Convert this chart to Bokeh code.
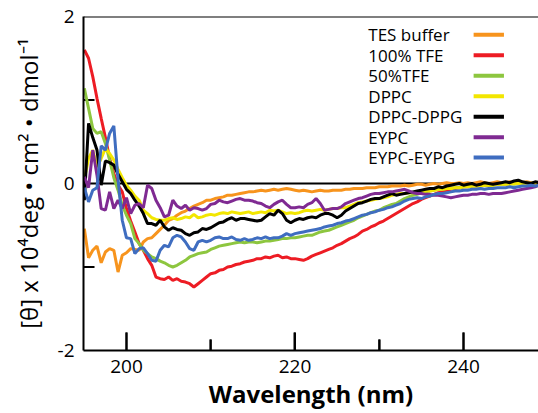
import numpy as np
from bokeh.plotting import figure
from bokeh.models import FixedTicker, Span, Range1d, ColumnDataSource
from bokeh.core.properties import value
from bokeh.embed import file_html
from bokeh.resources import INLINE

# ---------------- data ----------------
wavelength = np.arange(195.0, 249.51, 0.5)  # nm grid, 110 points

tes_buffer = [
    -0.54, -0.89, -0.80, -0.75, -0.95, -0.82, -0.78, -0.80, -1.06, -0.86,
    -0.83, -0.78, -0.79, -0.80, -0.70, -0.66, -0.65, -0.60, -0.55, -0.50,
    -0.44, -0.42, -0.38, -0.35, -0.33, -0.30, -0.27, -0.25, -0.23, -0.20,
    -0.20, -0.18, -0.17, -0.16, -0.14, -0.14, -0.13, -0.12, -0.11, -0.10,
    -0.10, -0.09, -0.08, -0.09, -0.08, -0.07, -0.08, -0.07, -0.06, -0.07,
    -0.08, -0.09, -0.08, -0.09, -0.10, -0.09, -0.08, -0.09, -0.09, -0.08,
    -0.08, -0.08, -0.07, -0.07, -0.06, -0.06, -0.06, -0.05, -0.05, -0.05,
    -0.04, -0.04, -0.04, -0.03, -0.03, -0.03, -0.02, -0.03, -0.02, -0.01,
    -0.01, -0.02, -0.01, 0.00, -0.01, 0.00, 0.01, 0.00, 0.00, 0.01,
    0.00, 0.01, 0.00, 0.01, 0.02, 0.01, 0.00, 0.01, 0.02, 0.01,
    0.01, 0.02, 0.01, 0.00, 0.01, 0.02, 0.01, 0.00, 0.01, 0.00,
]
tfe_100 = [
    1.60, 1.50, 1.28, 1.02, 0.78, 0.55, 0.30, 0.12, -0.02, -0.10,
    -0.30, -0.45, -0.58, -0.72, -0.80, -0.90, -0.98, -1.12, -1.14, -1.15,
    -1.12, -1.16, -1.14, -1.17, -1.18, -1.20, -1.24, -1.20, -1.16, -1.12,
    -1.08, -1.07, -1.04, -1.03, -1.00, -0.99, -0.97, -0.96, -0.94, -0.93,
    -0.92, -0.90, -0.90, -0.88, -0.89, -0.87, -0.86, -0.89, -0.88, -0.90,
    -0.90, -0.91, -0.92, -0.90, -0.87, -0.85, -0.83, -0.81, -0.79, -0.77,
    -0.74, -0.72, -0.69, -0.66, -0.64, -0.61, -0.57, -0.55, -0.52, -0.50,
    -0.47, -0.45, -0.42, -0.39, -0.36, -0.33, -0.30, -0.27, -0.24, -0.22,
    -0.19, -0.17, -0.15, -0.13, -0.11, -0.10, -0.08, -0.07, -0.06, -0.05,
    -0.04, -0.04, -0.03, -0.03, -0.02, -0.02, -0.02, -0.01, -0.01, 0.00,
    -0.01, 0.00, 0.00, 0.01, 0.00, 0.01, 0.00, 0.00, 0.01, 0.00,
]
tfe_50 = [
    1.14, 0.90, 0.66, 0.60, 0.62, 0.48, 0.28, 0.07, -0.08, -0.26,
    -0.38, -0.48, -0.66, -0.72, -0.80, -0.84, -0.88, -0.90, -0.93, -0.95,
    -0.98, -1.00, -0.98, -0.95, -0.92, -0.88, -0.86, -0.84, -0.83, -0.82,
    -0.79, -0.77, -0.75, -0.74, -0.73, -0.72, -0.71, -0.70, -0.71, -0.70,
    -0.70, -0.71, -0.70, -0.69, -0.69, -0.68, -0.67, -0.66, -0.66, -0.65,
    -0.65, -0.64, -0.63, -0.62, -0.62, -0.60, -0.58, -0.57, -0.56, -0.54,
    -0.52, -0.50, -0.48, -0.46, -0.44, -0.41, -0.39, -0.37, -0.35, -0.33,
    -0.32, -0.29, -0.27, -0.25, -0.24, -0.21, -0.18, -0.16, -0.14, -0.13,
    -0.11, -0.10, -0.09, -0.08, -0.07, -0.07, -0.06, -0.06, -0.05, -0.05,
    -0.04, -0.04, -0.03, -0.03, -0.03, -0.02, -0.02, -0.02, -0.01, -0.01,
    -0.01, 0.00, -0.01, 0.00, 0.00, 0.01, 0.00, 0.01, 0.00, 0.00,
]
dppc = [
    0.05, 0.30, 0.40, 0.20, 0.30, 0.42, 0.36, 0.28, 0.17, 0.07,
    -0.02, -0.08, -0.15, -0.20, -0.32, -0.36, -0.41, -0.43, -0.44, -0.44,
    -0.42, -0.41, -0.43, -0.42, -0.40, -0.41, -0.37, -0.41, -0.40, -0.38,
    -0.37, -0.38, -0.36, -0.35, -0.36, -0.34, -0.35, -0.36, -0.35, -0.34,
    -0.36, -0.35, -0.34, -0.35, -0.32, -0.33, -0.32, -0.34, -0.36, -0.35,
    -0.36, -0.35, -0.33, -0.32, -0.33, -0.32, -0.31, -0.32, -0.31, -0.30,
    -0.30, -0.29, -0.29, -0.27, -0.25, -0.23, -0.22, -0.21, -0.20, -0.19,
    -0.18, -0.17, -0.16, -0.14, -0.13, -0.12, -0.12, -0.11, -0.11, -0.10,
    -0.10, -0.09, -0.09, -0.08, -0.07, -0.07, -0.06, -0.06, -0.05, -0.05,
    -0.04, -0.04, -0.03, -0.03, -0.03, -0.02, -0.02, -0.02, -0.01, -0.01,
    -0.01, -0.01, 0.00, 0.00, -0.01, 0.00, 0.00, 0.01, 0.00, 0.00,
]
dppc_dppg = [
    -0.20, 0.72, 0.55, 0.40, -0.02, 0.27, 0.25, 0.22, 0.11, 0.02,
    -0.07, -0.12, -0.20, -0.27, -0.36, -0.48, -0.48, -0.50, -0.44, -0.52,
    -0.56, -0.53, -0.55, -0.56, -0.60, -0.62, -0.59, -0.58, -0.54, -0.55,
    -0.53, -0.50, -0.47, -0.46, -0.43, -0.41, -0.44, -0.42, -0.42, -0.43,
    -0.44, -0.45, -0.44, -0.40, -0.36, -0.38, -0.32, -0.36, -0.44, -0.47,
    -0.44, -0.42, -0.43, -0.41, -0.40, -0.41, -0.38, -0.36, -0.36, -0.38,
    -0.41, -0.38, -0.33, -0.30, -0.27, -0.24, -0.23, -0.21, -0.19, -0.18,
    -0.18, -0.16, -0.14, -0.12, -0.14, -0.13, -0.12, -0.11, -0.10, -0.09,
    -0.08, -0.07, -0.06, -0.06, -0.04, -0.05, -0.03, -0.02, -0.01, 0.00,
    -0.02, -0.01, 0.00, -0.02, -0.01, 0.01, 0.00, -0.01, 0.00, 0.01,
    0.02, 0.01, 0.03, 0.04, 0.02, 0.01, 0.00, 0.02, 0.01, 0.00,
]
eypc = [
    0.08, -0.05, 0.40, 0.10, -0.30, -0.32, -0.10, -0.30, -0.20, -0.30,
    -0.17, -0.36, -0.26, -0.24, -0.29, -0.02, -0.06, -0.20, -0.29, -0.40,
    -0.38, -0.20, -0.27, -0.30, -0.26, -0.32, -0.29, -0.30, -0.32, -0.30,
    -0.25, -0.24, -0.20, -0.22, -0.23, -0.21, -0.19, -0.18, -0.20, -0.20,
    -0.21, -0.23, -0.24, -0.27, -0.29, -0.25, -0.22, -0.20, -0.25, -0.29,
    -0.29, -0.28, -0.29, -0.25, -0.23, -0.18, -0.24, -0.32, -0.31, -0.30,
    -0.30, -0.28, -0.24, -0.22, -0.20, -0.18, -0.17, -0.15, -0.13, -0.12,
    -0.12, -0.11, -0.10, -0.10, -0.09, -0.08, -0.07, -0.09, -0.11, -0.12,
    -0.12, -0.13, -0.13, -0.14, -0.14, -0.15, -0.16, -0.17, -0.16, -0.15,
    -0.14, -0.14, -0.13, -0.13, -0.12, -0.12, -0.13, -0.12, -0.12, -0.12,
    -0.11, -0.10, -0.09, -0.08, -0.07, -0.06, -0.05, -0.04, -0.02, -0.01,
]
eypc_eypg = [
    -0.05, -0.22, -0.08, -0.05, 0.45, 0.40, 0.60, 0.69, 0.05, -0.44,
    -0.65, -0.66, -0.84, -0.78, -0.77, -0.84, -0.92, -0.93, -0.80, -0.74,
    -0.76, -0.65, -0.62, -0.64, -0.70, -0.78, -0.80, -0.70, -0.68, -0.70,
    -0.68, -0.65, -0.64, -0.66, -0.66, -0.64, -0.67, -0.68, -0.66, -0.68,
    -0.67, -0.65, -0.66, -0.64, -0.66, -0.65, -0.65, -0.63, -0.60, -0.62,
    -0.60, -0.59, -0.58, -0.57, -0.56, -0.55, -0.54, -0.52, -0.51, -0.50,
    -0.48, -0.47, -0.45, -0.44, -0.42, -0.40, -0.38, -0.37, -0.35, -0.34,
    -0.32, -0.31, -0.29, -0.28, -0.26, -0.24, -0.21, -0.19, -0.18, -0.17,
    -0.18, -0.16, -0.15, -0.13, -0.12, -0.12, -0.11, -0.10, -0.09, -0.09,
    -0.08, -0.08, -0.07, -0.07, -0.06, -0.07, -0.06, -0.06, -0.05, -0.05,
    -0.05, -0.04, -0.05, -0.04, -0.03, -0.03, -0.02, -0.03, -0.02, -0.02,
]

series_names = ["TES buffer", "100% TFE", "50%TFE", "DPPC", "DPPC-DPPG", "EYPC", "EYPC-EYPG"]
series_values = [tes_buffer, tfe_100, tfe_50, dppc, dppc_dppg, eypc, eypc_eypg]
series_colors = ["#F7941D", "#ED1C24", "#8DC63F", "#F2E600", "#000000", "#7F2A92", "#3F6DC0"]

x_ticks = [200, 220, 240]
x_minor = [210, 230]
y_ticks = [-2, 0, 2]
y_minor = [-1, 1]

# ---------------- layout constants ----------------
FONT = "Open Sans"
X_START, X_END = 194.9, 248.9
Y_START, Y_END = -2, 2
MAJOR_TICK_PX, MINOR_TICK_PX = 18, 11
LEG_TEXT_X = 228.7
LEG_LINE_X0, LEG_LINE_X1 = 241.2, 244.8
LEG_Y_TOP, LEG_DY = 1.78, 0.245

p = figure(width=538, height=413, output_backend="svg", toolbar_location=None,
           x_range=Range1d(X_START, X_END), y_range=Range1d(Y_START, Y_END),
           min_border_left=83, min_border_right=0, min_border_top=16, min_border_bottom=63)
p.outline_line_color = None
p.grid.visible = False

# inward tick marks: thin rectangles centred on the axis line (half falls inside the frame)
p.rect(x=x_ticks, y=[Y_START] * len(x_ticks), width=2, height=2 * MAJOR_TICK_PX,
       width_units="screen", height_units="screen", fill_color="black", line_color=None)
p.rect(x=x_minor, y=[Y_START] * len(x_minor), width=2, height=2 * MINOR_TICK_PX,
       width_units="screen", height_units="screen", fill_color="black", line_color=None)
p.rect(x=[X_START] * len(y_minor), y=y_minor, width=2 * MINOR_TICK_PX, height=2,
       width_units="screen", height_units="screen", fill_color="black", line_color=None)

# zero line (under the curves) and top frame line
p.add_layout(Span(location=0, dimension="width", line_color="black", line_width=2, level="underlay"))
p.add_layout(Span(location=Y_END, dimension="width", line_color="black", line_width=2))

for name, vals, col in zip(series_names, series_values, series_colors):
    src = ColumnDataSource(dict(x=wavelength, y=vals))
    p.line("x", "y", source=src, line_color=col, line_width=3)

# legend (text left, line sample right)
leg_y = LEG_Y_TOP - LEG_DY * np.arange(len(series_names))
p.text(x=[LEG_TEXT_X] * len(series_names), y=leg_y, text=series_names,
       text_font=value(FONT), text_font_size=value("17px"), text_color="black",
       text_baseline="middle", text_align="left")
p.segment(x0=[LEG_LINE_X0] * len(series_names), y0=leg_y,
          x1=[LEG_LINE_X1] * len(series_names), y1=leg_y,
          line_color=series_colors, line_width=4)

for ax in (p.xaxis[0], p.yaxis[0]):
    ax.axis_line_width = 2
    ax.axis_line_color = "black"
    ax.major_tick_line_width = 2
    ax.minor_tick_line_width = 2
    ax.major_tick_line_color = "black"
    ax.minor_tick_line_color = "black"
    ax.major_tick_out = 0
    ax.minor_tick_out = 0
    ax.major_label_text_font = FONT
    ax.major_label_text_font_size = "19px"
    ax.major_label_text_color = "black"
    ax.axis_label_text_font = FONT
    ax.axis_label_text_color = "black"

p.xaxis.ticker = FixedTicker(ticks=x_ticks, minor_ticks=x_minor)
p.xaxis.major_tick_in = MAJOR_TICK_PX
p.xaxis.minor_tick_in = MINOR_TICK_PX
p.xaxis.major_label_standoff = 9
p.xaxis.axis_label = "Wavelength (nm)"
p.xaxis.axis_label_text_font_size = "24px"
p.xaxis.axis_label_text_font_style = "bold"
p.xaxis.axis_label_standoff = 1

p.yaxis.ticker = FixedTicker(ticks=y_ticks, minor_ticks=y_minor)
p.yaxis.major_tick_in = 0
p.yaxis.minor_tick_in = 0
p.yaxis.major_label_standoff = 9
p.yaxis.major_label_overrides = {-2: "-2", 0: "0", 2: "2"}
p.yaxis.axis_label = "[θ] x 10⁴deg • cm² • dmol⁻¹"
p.yaxis.axis_label_text_font_size = "24px"
p.yaxis.axis_label_text_font_style = "normal"
p.yaxis.axis_label_standoff = 10

open("out.html", "w").write(file_html(p, INLINE))
